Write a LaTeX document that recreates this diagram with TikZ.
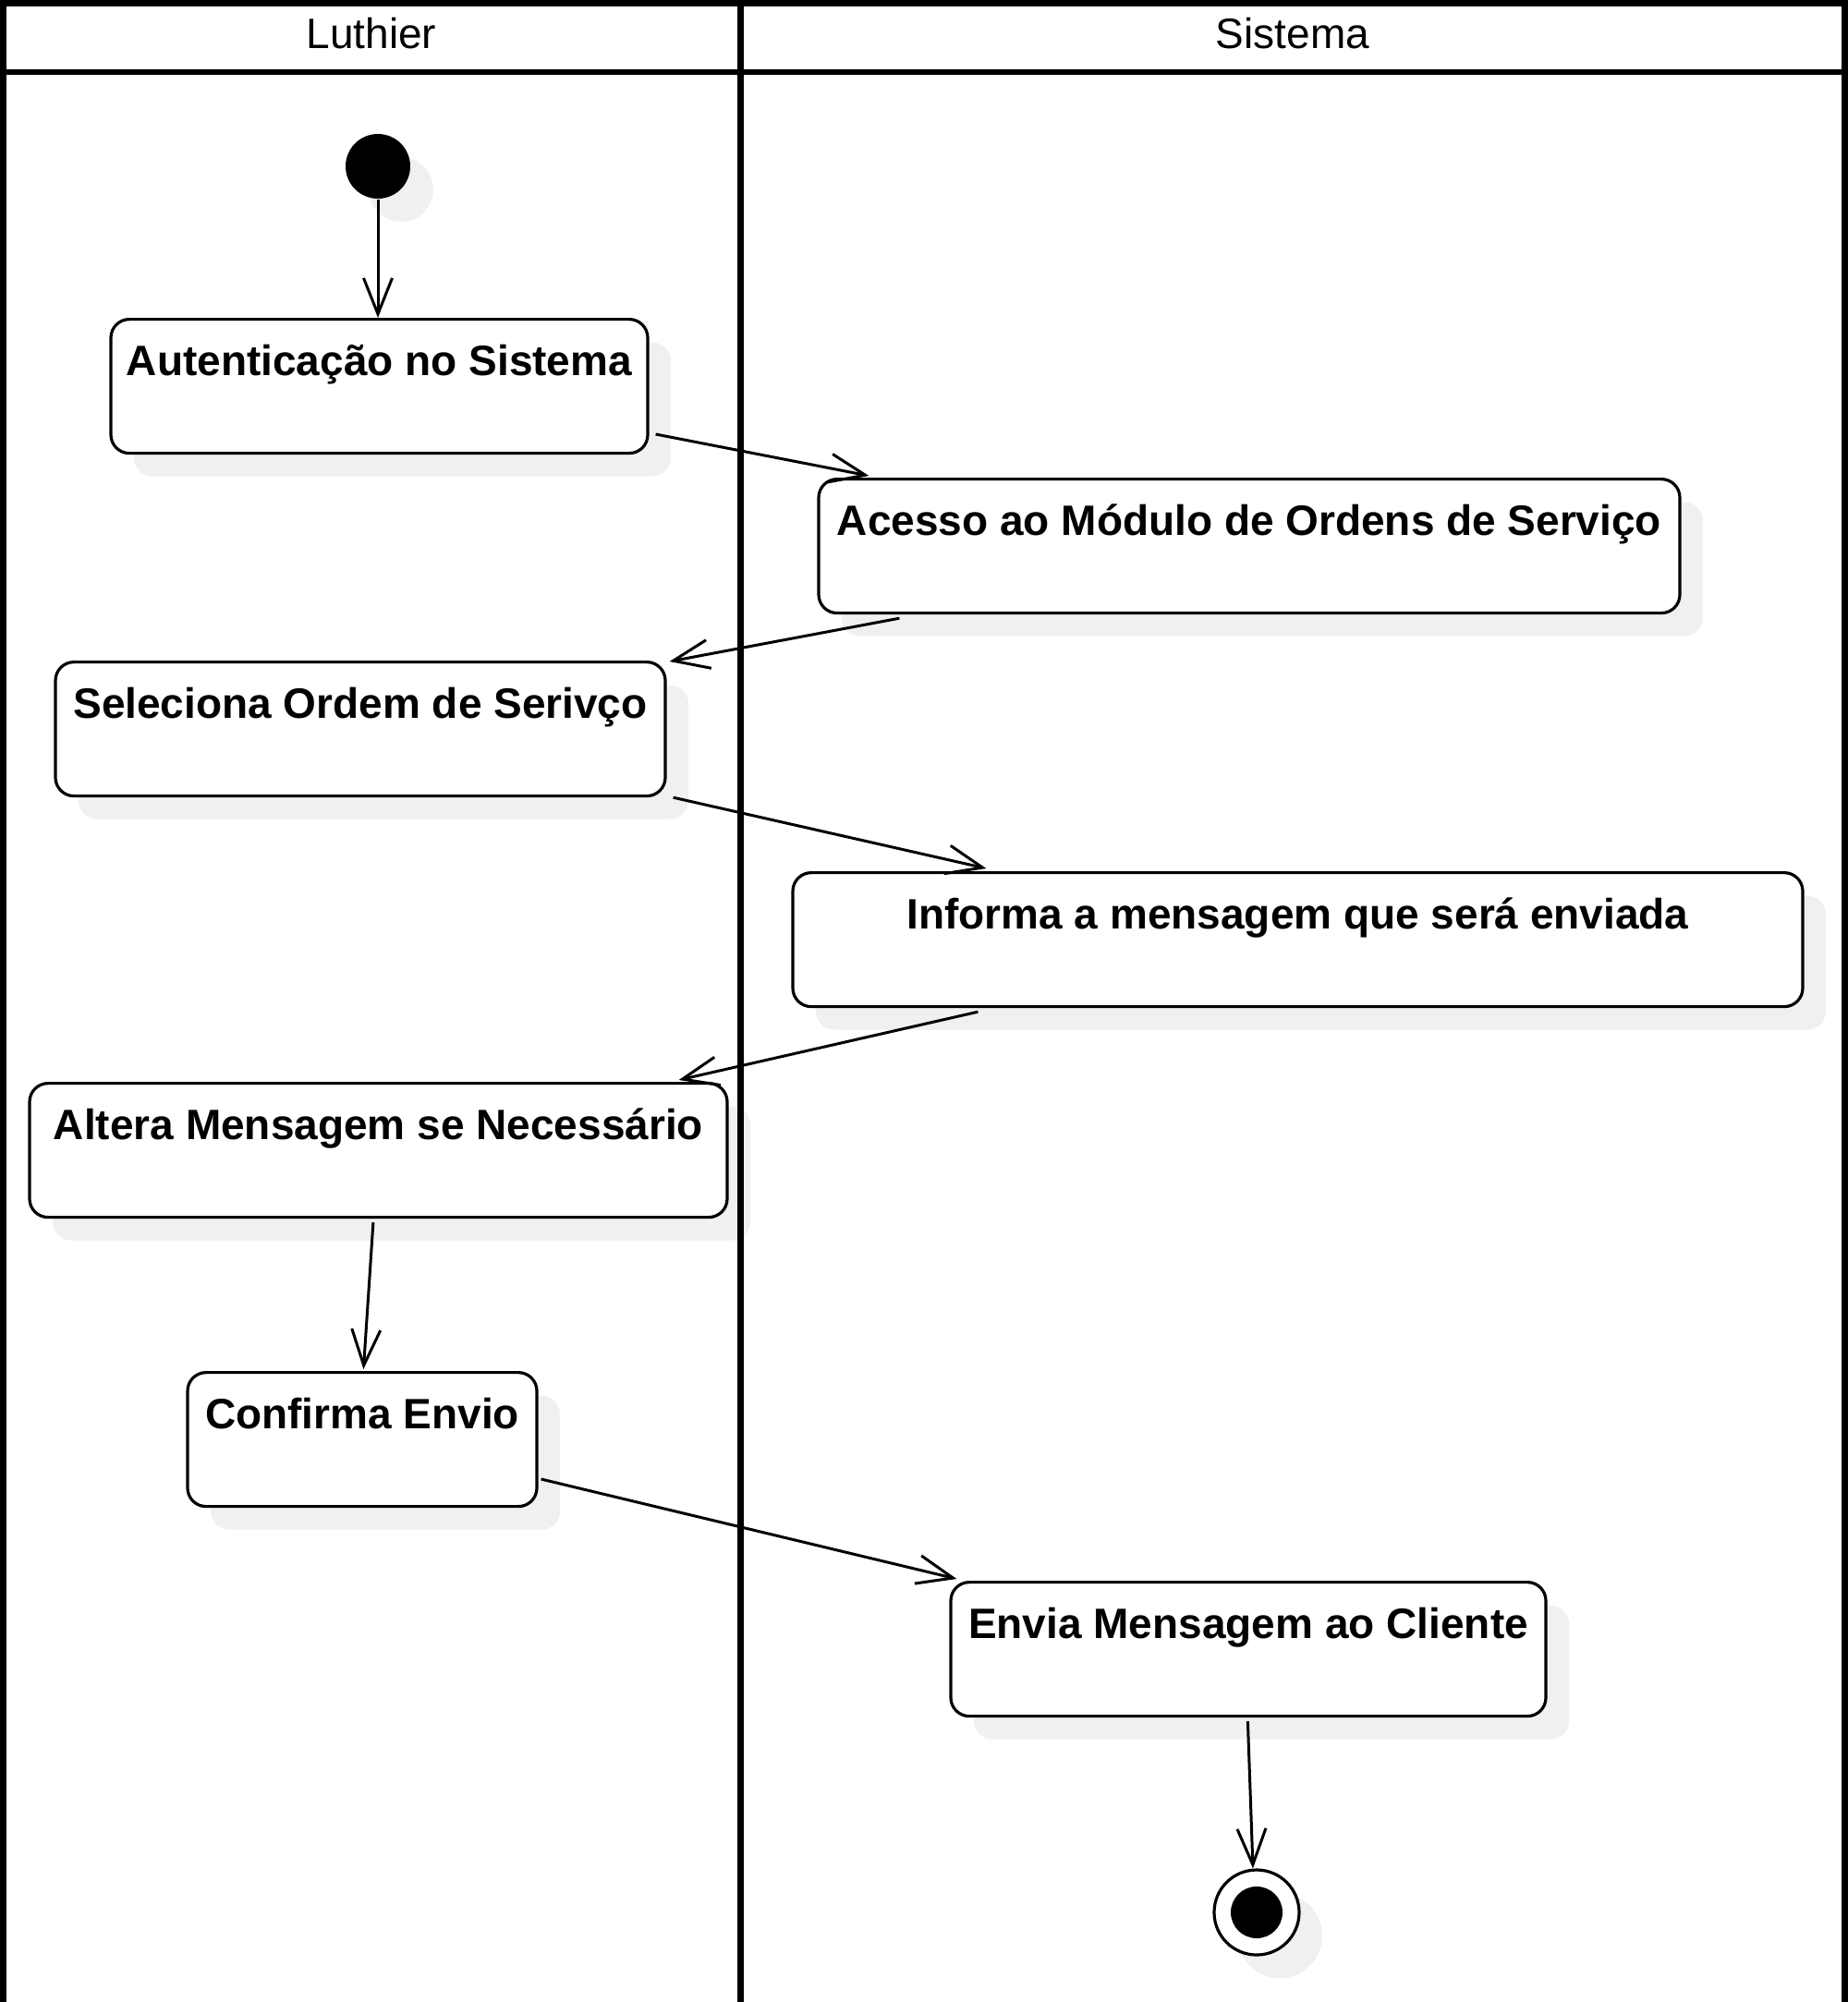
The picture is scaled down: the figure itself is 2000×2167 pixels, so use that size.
\documentclass[tikz,border=0pt]{standalone}
\usepackage{fontspec}
\setmainfont{Liberation Sans}
\usetikzlibrary{arrows.meta,shadows,calc}
\definecolor{shadowgray}{RGB}{240,240,240}
\begin{document}
\begin{tikzpicture}[x=0.5pt,y=-0.5pt,
  shad/.style={general shadow={fill=shadowgray, shadow xshift=12.5pt, shadow yshift=-12.5pt}},
  act/.style={draw, line width=1.6pt, rounded corners=10pt, fill=white, inner sep=0pt,
    text height=30.5pt, text depth=42pt, anchor=north, shad,
    font=\fontsize{23}{27}\selectfont\bfseries},
  flow/.style={line width=1.5pt, -{Straight Barb[length=19.5pt,width=15.5pt,line width=1.5pt]}},
  lane/.style={line width=3.3pt},
  lanelabel/.style={anchor=base, font=\fontsize{23}{27}\selectfont}]
\useasboundingbox (0,0) rectangle (2000,2167);

% start / end
\node[circle, fill=black, minimum size=35pt, inner sep=0pt, shad] (start) at (409,180) {};
\node[circle, draw, line width=1.6pt, fill=white, minimum size=46pt, inner sep=0pt, shad] (end) at (1360,2070) {};
\node[circle, fill=black, minimum size=28pt, inner sep=0pt] (endin) at (end) {};

% activities
\node[act, minimum width=290.5pt] (b1) at (410.5,344) {Autenticação no Sistema};
\node[act, minimum width=466pt]   (b2) at (1352,517) {Acesso ao Módulo de Ordens de Serviço};
\node[act, minimum width=330pt]   (b3) at (390,715) {Seleciona Ordem de Serivço};
\node[act, minimum width=546.5pt] (b4) at (1404.5,943) {Informa a mensagem que será enviada};
\node[act, minimum width=377.5pt] (b5) at (409.5,1171) {Altera Mensagem se Necessário};
\node[act, minimum width=189pt]   (b6) at (392,1484) {Confirma Envio};
\node[act, minimum width=322pt]   (b7) at (1351,1711) {Envia Mensagem ao Cliente};

% connectors
\draw[flow] ($(start.south)+(0,1)$) -- ($(b1.north)+(-1.5,0)$);
\draw[flow] ($(b1.north east)+(7,126)$) -- ($(b2.north west)+(56,-2)$);
\draw[flow] ($(b2.south west)+(89,4)$) -- ($(b3.north east)+(3,1)$);
\draw[flow] ($(b3.south east)+(7,0)$) -- ($(b4.north west)+(211,-3)$);
\draw[flow] ($(b4.south west)+(202,4)$) -- ($(b5.north east)+(-54,-2)$);
\draw[flow] ($(b5.south west)+(373.5,4)$) -- ($(b6.north west)+(192,-2)$);
\draw[flow] ($(b6.north east)+(3,117)$) -- ($(b7.north west)+(8,-2)$);
\draw[flow] ($(b7.south west)+(323,4)$) -- ($(end.north)+(-4,0)$);

% swimlanes
\draw[lane] (3.5,2167) -- (3.5,3.3) -- (1996.5,3.3) -- (1996.5,2167);
\draw[lane] (3.5,78) -- (1996.5,78);
\draw[lane] (801.5,3.3) -- (801.5,2167);
\node[lanelabel] (luthier) at (402,53) {Luthier};
\node[lanelabel] (sistema) at (1399,53) {Sistema};
\end{tikzpicture}
\end{document}
